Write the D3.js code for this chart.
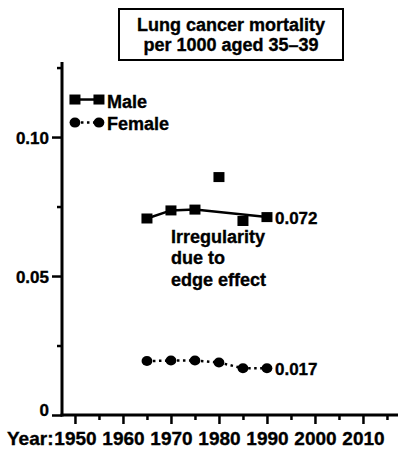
<!DOCTYPE html>
<html>
<head>
<meta charset="utf-8">
<script src="https://cdn.jsdelivr.net/npm/d3@7/dist/d3.min.js"></script>
<style>
  html, body { margin: 0; padding: 0; background: #fff; }
  svg { display: block; }
  svg text { font-family: "Liberation Sans", Arial, Helvetica, sans-serif !important; font-weight: 700 !important; fill: #000; stroke: #000; stroke-width: 0.35px; }
</style>
</head>
<body>
<svg id="chart" width="398" height="452"></svg>
<script>
// ---- data ----
const years = [1965, 1970, 1975, 1980, 1985, 1990];
const maleValues = [0.0707, 0.0736, 0.0739, 0.0856, 0.0698, 0.0712];
const maleConnected = [true, true, true, false, false, true];
const femaleValues = [0.0194, 0.0196, 0.0196, 0.0189, 0.0168, 0.0168];
const legendYears = [1950, 1955];
const legendMaleValue = 0.1135;
const legendFemaleValue = 0.1052;
const seriesNames = ["Male", "Female"];
const endLabels = ["0.072", "0.017"];
const noteLines = ["Irregularity", "due to", "edge effect"];
const titleLines = ["Lung cancer mortality", "per 1000 aged 35\u201339"];
const xMajorTicks = [1950, 1960, 1970, 1980, 1990, 2000, 2010];
const xTickLabels = ["1950", "1960", "1970", "1980", "1990", "2000", "2010"];
const xMinorTicks = [1955, 1965, 1975, 1985, 1995, 2005, 2015];
const yMajorTicks = [0, 0.05, 0.10];
const yTickLabels = ["0", "0.05", "0.10"];
const yMinorTicks = [0.025, 0.075, 0.125];
const xAxisPrefix = "Year:";

// ---- layout ----
const svg = d3.select("#chart");
const x = d3.scaleLinear().domain([1947.3, 2017.3]).range([62, 398]);
const y = d3.scaleLinear().domain([0, 0.127]).range([415, 62]);
const axisW = 3;

// title box
const tg = svg.append("g");
tg.append("rect").attr("x", 119).attr("y", 9).attr("width", 224).attr("height", 51)
  .attr("fill", "#fff").attr("stroke", "#000").attr("stroke-width", 2);
tg.selectAll("text.title").data(titleLines).join("text")
  .attr("class", "title")
  .attr("x", 231).attr("y", (d, i) => 31 + i * 19.5)
  .attr("text-anchor", "middle").attr("font-size", 18).text(d => d);

// y axis
const yAxis = d3.axisLeft(y).tickValues(yMajorTicks).tickSize(10)
  .tickFormat((d, i) => yTickLabels[i]).tickSizeOuter(0);
const yg = svg.append("g").attr("transform", `translate(${x.range()[0]},0)`).call(yAxis);
yg.attr("font-size", 17);
yg.select(".domain").attr("stroke-width", axisW).attr("d", `M0,${y(0) + 1.5}V${y.range()[1]}`);
yg.selectAll(".tick line").attr("stroke-width", 2.5);
yg.selectAll(".tick text").attr("x", -13)
  .attr("dy", (d) => d === 0 ? "0.05em" : "0.36em");
const yMinor = d3.axisLeft(y).tickValues(yMinorTicks).tickSize(5).tickFormat("").tickSizeOuter(0);
const ymg = svg.append("g").attr("transform", `translate(${x.range()[0]},0)`).call(yMinor);
ymg.select(".domain").remove();
ymg.selectAll(".tick line").attr("stroke-width", 2.5);

// x axis
const xAxis = d3.axisBottom(x).tickValues(xMajorTicks).tickSize(9)
  .tickFormat((d, i) => xTickLabels[i]).tickSizeOuter(0);
const xg = svg.append("g").attr("transform", `translate(0,${y(0)})`).call(xAxis);
xg.attr("font-size", 19);
xg.select(".domain").attr("stroke-width", axisW).attr("d", `M${x.range()[0] - 1.5},0H${x.range()[1]}`);
xg.selectAll(".tick line").attr("stroke-width", 2.5);
xg.selectAll(".tick text").attr("y", 30).attr("dy", 0);
const xMinor = d3.axisBottom(x).tickValues(xMinorTicks).tickSize(5).tickFormat("").tickSizeOuter(0);
const xmg = svg.append("g").attr("transform", `translate(0,${y(0)})`).call(xMinor);
xmg.select(".domain").remove();
xmg.selectAll(".tick line").attr("stroke-width", 2.5);
svg.append("text").attr("x", 7).attr("y", y(0) + 30).attr("font-size", 19).text(xAxisPrefix);

// series data
const male = years.map((yr, i) => ({ year: yr, value: maleValues[i], conn: maleConnected[i] }));
const female = years.map((yr, i) => ({ year: yr, value: femaleValues[i] }));
const line = d3.line().x(d => x(d.year)).y(d => y(d.value));

const sq = 11, sqH = 10, cr = 5;

function drawMale(g, pts, linePts) {
  g.append("path").datum(linePts).attr("d", line).attr("fill", "none")
    .attr("stroke", "#000").attr("stroke-width", 2.5);
  g.selectAll("rect.m").data(pts).join("rect").attr("class", "m")
    .attr("x", d => x(d.year) - sq / 2).attr("y", d => y(d.value) - sqH / 2)
    .attr("width", sq).attr("height", sqH).attr("fill", "#000");
}
function drawFemale(g, pts) {
  g.append("path").datum(pts).attr("d", line).attr("fill", "none")
    .attr("stroke", "#000").attr("stroke-width", 2.5).attr("stroke-dasharray", "2.5,3.5");
  g.selectAll("ellipse.f").data(pts).join("ellipse").attr("class", "f")
    .attr("cx", d => x(d.year)).attr("cy", d => y(d.value))
    .attr("rx", cr + 0.4).attr("ry", cr).attr("fill", "#000");
}

drawMale(svg.append("g"), male, male.filter(d => d.conn));
drawFemale(svg.append("g"), female);

// legend (drawn in data space)
const legMale = legendYears.map(yr => ({ year: yr, value: legendMaleValue }));
const legFemale = legendYears.map(yr => ({ year: yr, value: legendFemaleValue }));
drawMale(svg.append("g"), legMale, legMale);
drawFemale(svg.append("g"), legFemale);
svg.append("text").attr("x", x(legendYears[1]) + 8).attr("y", y(legendMaleValue) + 8)
  .attr("font-size", 18).text(seriesNames[0]);
svg.append("text").attr("x", x(legendYears[1]) + 8).attr("y", y(legendFemaleValue) + 7)
  .attr("font-size", 18).text(seriesNames[1]);

// end labels
const lastYear = years[years.length - 1];
svg.append("text").attr("x", x(lastYear) + 8).attr("y", y(maleValues[maleValues.length - 1]) + 7)
  .attr("font-size", 17).text(endLabels[0]);
svg.append("text").attr("x", x(lastYear) + 8).attr("y", y(femaleValues[femaleValues.length - 1]) + 7)
  .attr("font-size", 17).text(endLabels[1]);

// note
svg.selectAll("text.note").data(noteLines).join("text").attr("class", "note")
  .attr("x", x(1970)).attr("y", (d, i) => 242.5 + i * 21.5)
  .attr("font-size", 18).text(d => d);
</script>
</body>
</html>
